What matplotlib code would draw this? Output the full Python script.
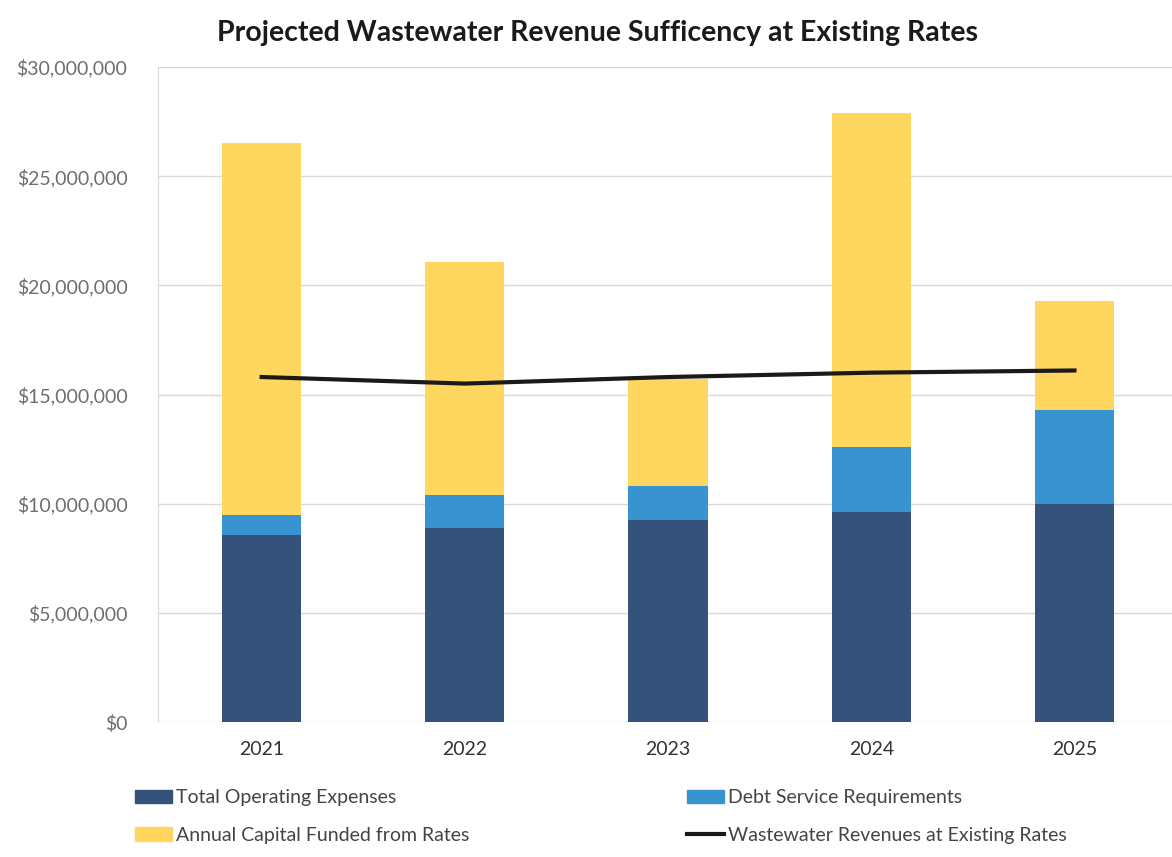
import matplotlib.pyplot as plt
from matplotlib.ticker import FuncFormatter, MultipleLocator
from matplotlib.lines import Line2D
from matplotlib.patches import Patch

plt.rcParams['font.family'] = ['Lato', 'DejaVu Sans']

# Projected wastewater budget, in dollars
years = ['2021', '2022', '2023', '2024', '2025']
operating = [8_570_000, 8_900_000, 9_260_000, 9_630_000, 10_000_000]
debt_service = [920_000, 1_500_000, 1_540_000, 2_970_000, 4_300_000]
capital = [17_010_000, 10_650_000, 4_900_000, 15_300_000, 5_000_000]
revenues = [15_800_000, 15_500_000, 15_800_000, 16_000_000, 16_100_000]

c_oper = '#34527a'
c_debt = '#3a93d1'
c_cap = '#ffd75e'

fig = plt.figure(figsize=(11.72, 8.57), dpi=100)
ax = fig.add_axes([158 / 1172, 135 / 857, 1014 / 1172, 655 / 857])

x = list(range(len(years)))
w = 0.39
ax.bar(x, operating, w, color=c_oper, zorder=2)
ax.bar(x, debt_service, w, bottom=operating, color=c_debt, zorder=2)
base = [o + d for o, d in zip(operating, debt_service)]
ax.bar(x, capital, w, bottom=base, color=c_cap, zorder=2)
ax.plot(x, revenues, color='#1a1a1a', lw=3, zorder=3)

ax.set_xlim(-0.51, 4.48)
ax.set_ylim(0, 30_000_000)
ax.yaxis.set_major_locator(MultipleLocator(5_000_000))
ax.yaxis.set_major_formatter(FuncFormatter(lambda v, p: f'${v:,.0f}'))
ax.set_xticks(x)
ax.set_xticklabels(years)

ax.grid(axis='y', color='#d9d9d9', lw=1, zorder=0)
for s in ['top', 'right', 'bottom']:
    ax.spines[s].set_visible(False)
ax.spines['left'].set_color('#d9d9d9')
ax.tick_params(axis='both', length=0)
ax.tick_params(axis='y', labelsize=14, labelcolor='#6e6e6e', pad=22)
ax.tick_params(axis='x', labelsize=14, labelcolor='#333333', pad=14)

fig.text(0.51, 0.962, 'Projected Wastewater Revenue Sufficency at Existing Rates',
         ha='center', va='center', fontsize=20.5, fontweight='bold', color='#1a1a1a')

handles = [
    Patch(color=c_oper, label='Total Operating Expenses'),
    Patch(color=c_cap, label='Annual Capital Funded from Rates'),
    Patch(color=c_debt, label='Debt Service Requirements'),
    Line2D([], [], color='#1a1a1a', lw=3, label='Wastewater Revenues at Existing Rates'),
]
fig.legend(handles=handles, ncol=2, loc='lower left', bbox_to_anchor=(0.1, -0.005),
           frameon=False, fontsize=14, labelcolor='#444444', columnspacing=11.2,
           handlelength=1.9, handletextpad=0.2, labelspacing=1.05)

fig.savefig('out.png', dpi=100)
